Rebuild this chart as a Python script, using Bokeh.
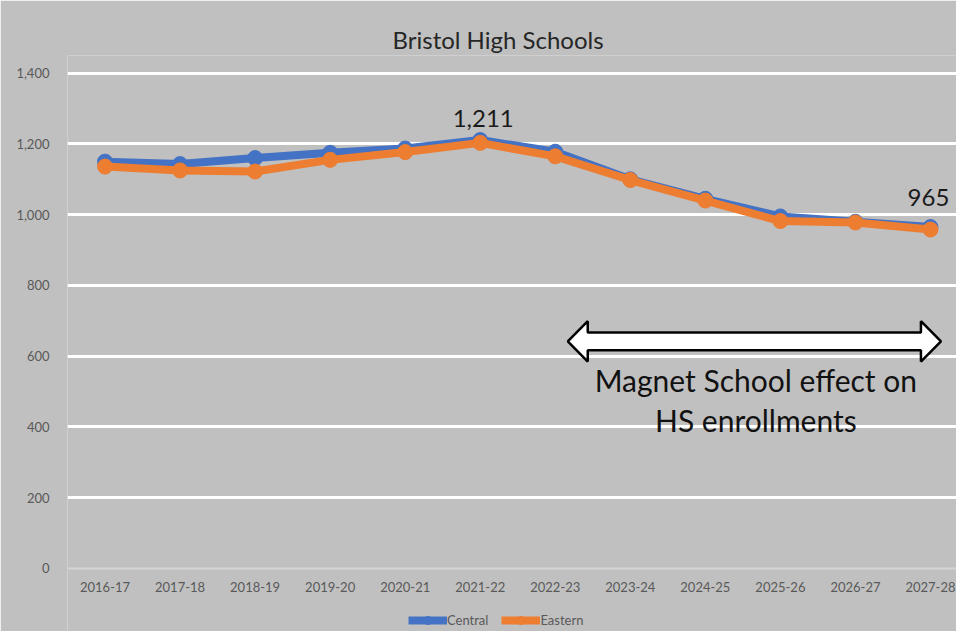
from bokeh.plotting import figure
from bokeh.embed import file_html
from bokeh.resources import INLINE
from bokeh.models import (Range1d, FixedTicker, NumeralTickFormatter, Legend, LegendItem,
                          Span, ColumnDataSource)
from bokeh.core.properties import value

# ---- data ----
years = ["2016-17", "2017-18", "2018-19", "2019-20", "2020-21", "2021-22",
         "2022-23", "2023-24", "2024-25", "2025-26", "2026-27", "2027-28"]
central = [1150, 1143, 1160, 1175, 1187, 1211, 1178, 1100, 1045, 995, 980, 965]
eastern = [1136, 1125, 1122, 1155, 1177, 1203, 1165, 1098, 1040, 982, 978, 958]
y_ticks = [0, 200, 400, 600, 800, 1000, 1200, 1400]
callouts = ["1,211", "965"]
callout_idx = [5, 11]
annotation_lines = ["Magnet School effect on", "HS enrollments"]

GREY = "#C0C0C0"
BLUE = "#4472C4"
ORANGE = "#ED7D31"
FONT = "Lato"
LABEL_GREY = "#595959"

xs = list(range(len(years)))

p = figure(width=956, height=631, output_backend="svg", toolbar_location=None,
           x_range=Range1d(-0.5, 11.347), y_range=Range1d(-178.2, 1450),
           min_border_left=67, min_border_right=0, min_border_top=55, min_border_bottom=0,
           background_fill_color=GREY, border_fill_color=GREY,
           title="Bristol High Schools")
p.outline_line_color = None
p.title.align = "left"
p.title.offset = 325
p.title.standoff = 4
p.title.text_font = FONT
p.title.text_font_size = "24px"
p.title.text_font_style = "normal"
p.title.text_color = "#262626"

# axes
p.xaxis.visible = False
p.yaxis.ticker = FixedTicker(ticks=y_ticks)
p.yaxis.formatter = NumeralTickFormatter(format="0,0")
ya = p.yaxis[0]
ya.axis_line_color = None
ya.major_tick_line_color = None
ya.minor_tick_line_color = None
ya.major_label_text_font = FONT
ya.major_label_text_font_size = "13px"
ya.major_label_text_color = LABEL_GREY
ya.major_label_standoff = 12

# category labels along the bottom, drawn at y = 0 through the data scale
p.text(x=xs, y=[0] * len(xs), text=years, y_offset=19, text_align="center",
       text_baseline="middle", text_font=value(FONT), text_font_size="13px",
       text_color=LABEL_GREY)

p.xgrid.visible = False
p.ygrid.ticker = FixedTicker(ticks=y_ticks[1:])
p.ygrid.grid_line_color = "white"
p.ygrid.grid_line_width = 3
p.add_layout(Span(location=y_ticks[0], dimension="width", line_color="#D4D4D4", line_width=2))

# series
src = ColumnDataSource(dict(x=xs, c=central, e=eastern))
lc = p.line("x", "c", source=src, line_color=BLUE, line_width=8)
mc = p.scatter("x", "c", source=src, size=15, fill_color=BLUE, line_color=BLUE)
le = p.line("x", "e", source=src, line_color=ORANGE, line_width=8)
me = p.scatter("x", "e", source=src, size=15, fill_color=ORANGE, line_color=ORANGE)

# callout labels
cx = [xs[i] for i in callout_idx]
cy = [central[i] for i in callout_idx]
p.text(x=cx[:1], y=cy[:1], text=callouts[:1], x_offset=3, y_offset=-22,
       text_align="center", text_baseline="middle", text_font=value(FONT),
       text_font_size="24px", text_color="#1a1a1a")
p.text(x=cx[1:], y=cy[1:], text=callouts[1:], x_offset=-2, y_offset=-30,
       text_align="center", text_baseline="middle", text_font=value(FONT),
       text_font_size="24px", text_color="#1a1a1a")

# double-headed block arrow
ax_l, ax_lb, ax_rb, ax_r = 6.167, 6.433, 10.873, 11.14
ay_c, ay_bh, ay_hh = 642, 25, 57
arrow_x = [ax_l, ax_lb, ax_lb, ax_rb, ax_rb, ax_r, ax_rb, ax_rb, ax_lb, ax_lb]
arrow_y = [ay_c, ay_c + ay_hh, ay_c + ay_bh, ay_c + ay_bh, ay_c + ay_hh, ay_c,
           ay_c - ay_hh, ay_c - ay_bh, ay_c - ay_bh, ay_c - ay_hh]
p.patch(arrow_x, arrow_y, fill_color="white", line_color="black", line_width=2.5)

p.text(x=[8.673, 8.673], y=[532, 419], text=annotation_lines,
       text_align="center", text_baseline="middle", text_font=value(FONT),
       text_font_size="30px", text_color="#111111")

legend = Legend(items=[LegendItem(label="Central", renderers=[lc, mc]),
                       LegendItem(label="Eastern", renderers=[le, me])],
                orientation="horizontal", location=(341, 1),
                background_fill_alpha=0, border_line_color=None,
                label_text_font=FONT, label_text_font_size="13px",
                label_text_color=LABEL_GREY, glyph_width=39, glyph_height=20,
                label_standoff=0, spacing=13, margin=0, padding=0)
p.add_layout(legend, "center")

open("out.html", "w").write(file_html(p, INLINE))
